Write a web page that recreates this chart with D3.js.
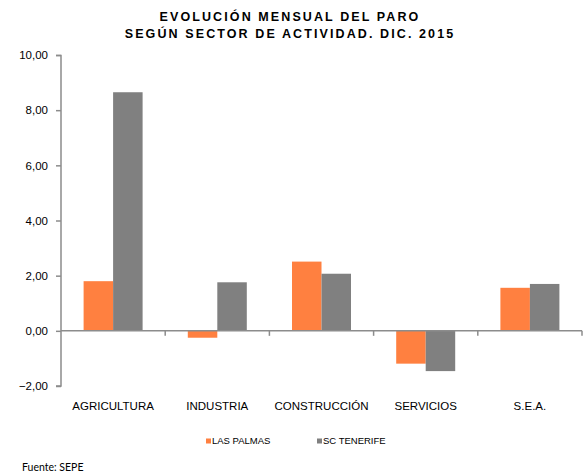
<!DOCTYPE html>
<html><head><meta charset="utf-8">
<script src="https://cdn.jsdelivr.net/npm/d3@7"></script>
<style>
body{margin:0;background:#fff;}
svg text{font-family:"Liberation Sans",Arial,sans-serif;}
</style></head>
<body><svg id="c" width="585" height="475"></svg>
<script>
const categories = ["AGRICULTURA","INDUSTRIA","CONSTRUCCIÓN","SERVICIOS","S.E.A."];
const series = ["LAS PALMAS","SC TENERIFE"];
const lasPalmas = [1.80, -0.25, 2.51, -1.19, 1.56];
const scTenerife = [8.65, 1.76, 2.07, -1.46, 1.70];
const yTicks = [-2, 0, 2, 4, 6, 8, 10];
const titleLines = ["EVOLUCIÓN MENSUAL DEL PARO", "SEGÚN SECTOR DE ACTIVIDAD. DIC. 2015"];
const source = "Fuente: SEPE";
const colors = ["#FF8040", "#808080"];

const svg = d3.select("#c");
const axisColor = "#8c8c8c";
const x0 = d3.scaleBand().domain(categories).range([61, 582]).padding(0);
const x1 = d3.scaleBand().domain(series).range([0, x0.bandwidth()]).paddingInner(0).paddingOuter(0.766);
const y = d3.scaleLinear().domain([-2, 10]).range([386, 55]);
const color = d3.scaleOrdinal().domain(series).range(colors);
const values = {"LAS PALMAS": lasPalmas, "SC TENERIFE": scTenerife};

// title
svg.append("g").selectAll("text").data(titleLines).join("text")
  .attr("x", 290).attr("y", (d,i) => 21 + i*17)
  .attr("text-anchor","middle").attr("font-weight","bold")
  .attr("font-size","12.5px").attr("letter-spacing","2.1px").attr("fill","#000")
  .text(d => d);

// bars
const g = svg.append("g");
series.forEach(s => {
  g.selectAll(null).data(categories).join("rect")
    .attr("x", c => x0(c) + x1(s))
    .attr("width", x1.bandwidth())
    .attr("y", (c,i) => y(Math.max(0, values[s][i])))
    .attr("height", (c,i) => Math.abs(y(values[s][i]) - y(0)))
    .attr("fill", color(s));
});

// y axis
const ya = svg.append("g").attr("transform","translate(61,0)")
  .call(d3.axisLeft(y).tickValues(yTicks).tickSize(5).tickPadding(8)
    .tickFormat(d => d3.format(".2f")(d).replace(".", ",")));
ya.select(".domain").attr("stroke", axisColor).attr("stroke-width",1.5).attr("d","M-5,55.5H0V386H-5");
ya.selectAll(".tick line").attr("stroke", axisColor).attr("stroke-width",1.5);
ya.selectAll(".tick text").attr("font-size","11.5px").attr("fill","#000");

// x axis at zero
const bounds = categories.map(c => x0(c)).concat([x0.range()[1]]);
const xg = svg.append("g");
xg.append("line").attr("x1", x0.range()[0]).attr("x2", x0.range()[1])
  .attr("y1", y(0)).attr("y2", y(0)).attr("stroke", axisColor).attr("stroke-width",1.5);
xg.selectAll(null).data(bounds.slice(1)).join("line")
  .attr("x1", d=>d).attr("x2", d=>d).attr("y1", y(0)).attr("y2", y(0)+5)
  .attr("stroke", axisColor).attr("stroke-width",1.5);
xg.selectAll(null).data(categories).join("text")
  .attr("x", c => x0(c) + x0.bandwidth()/2).attr("y", 410)
  .attr("text-anchor","middle").attr("font-size","11.5px").attr("fill","#000")
  .text(c => c);

// legend
const legendX = [206, 317];
const lg = svg.append("g");
series.forEach((s,i) => {
  lg.append("rect").attr("x", legendX[i]).attr("y", 438.5).attr("width",5).attr("height",5).attr("fill", color(s));
  lg.append("text").attr("x", legendX[i]+6).attr("y", 444).attr("font-size","9.5px").attr("fill","#000").text(s);
});

// source
svg.append("text").attr("x", 22).attr("y", 471).attr("font-size","10.5px")
  .style("font-family","Lato, 'Open Sans', sans-serif").attr("fill","#000").text(source);
</script></body></html>
